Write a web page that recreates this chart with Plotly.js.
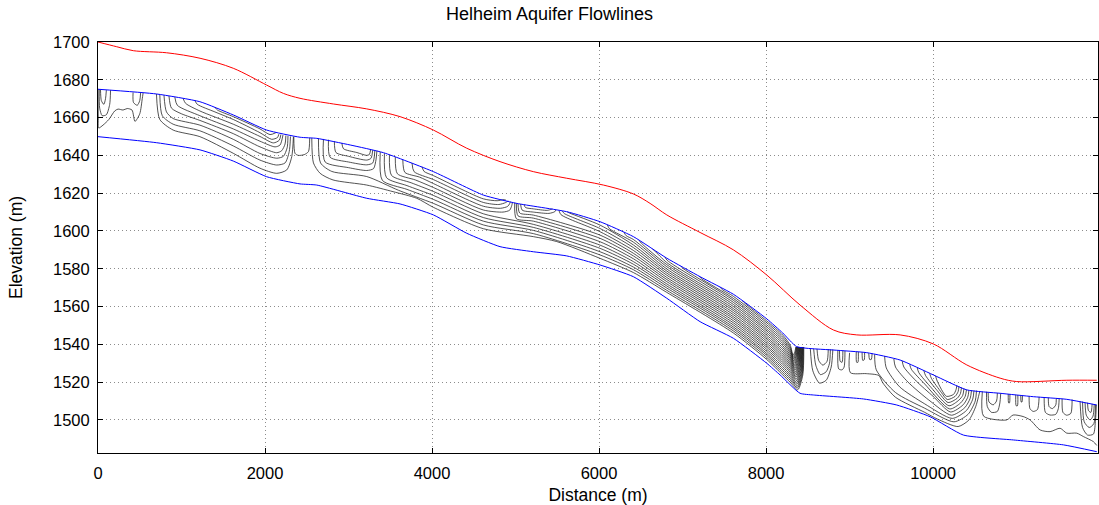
<!DOCTYPE html>
<html>
<head>
<meta charset="utf-8">
<script src="https://cdn.plot.ly/plotly-3.0.1.min.js"></script>
<style>html,body{margin:0;padding:0;background:#fff;}#chart{width:1099px;height:505px;}</style>
</head>
<body>
<div id="chart"></div>
<script>
// ---------- axis ticks ----------
const xTickVals = [0, 2000, 4000, 6000, 8000, 10000];
const yTickVals = [1500, 1520, 1540, 1560, 1580, 1600, 1620, 1640, 1660, 1680, 1700];

// ---------- ground surface (red) ----------
const surfaceX = [0,224,423,822,1222,1620,2020,2220,2419,2818,3218,3617,4016,4415,4814,5213,5613,6052,6411,6611,6811,7210,7609,8008,8407,8806,9086,9605,10004,10404,10803,11002,11601,11960];
const surfaceY = [1700,1697.5,1695.4,1694.3,1691.4,1686.1,1677.2,1672.8,1670.2,1667.2,1664.6,1660.5,1653.4,1643.8,1636.7,1631.4,1627.9,1624.3,1619.6,1614.6,1608.5,1599.2,1590,1576.7,1560.8,1547.6,1545,1545,1540.2,1529.1,1522.1,1520.3,1521,1521];

// ---------- aquifer top (blue) ----------
const aquiferTopX = [0,700,1220,1620,2020,2420,2620,3020,3420,4016,4614,5014,5613,6012,6411,6811,7210,7609,8008,8200,8367,8806,9206,9605,10004,10404,10803,11202,11601,11960];
const aquiferTopY = [1675,1672.5,1668.4,1661.4,1653.4,1649.6,1649,1645.5,1641.4,1631.4,1619,1614.6,1610.2,1604.9,1597,1585.6,1575.8,1566.5,1553.5,1546,1538.8,1537,1535.6,1531.7,1523.8,1515.9,1514.1,1512.3,1510.9,1507.9];

// ---------- aquifer bottom (blue) ----------
const aquiferBottomX = [0,703,1222,1620,2020,2419,2619,3218,3617,4016,4415,4814,5213,5613,6012,6411,6811,7210,7609,8008,8168,8407,8567,9166,9565,9964,10363,10962,11561,11960];
const aquiferBottomY = [1649.9,1646.7,1642.9,1637,1628.7,1624.9,1624.3,1617.3,1614.3,1608.5,1598.8,1591.7,1589,1586.8,1582,1575.8,1564.4,1552,1543.2,1530,1523.8,1514.1,1513.2,1511.1,1507.9,1501.7,1492,1489.4,1486.8,1483.2];

// ---------- flowlines (black), [distance, elevation] ----------
const A1 = [[0,1675],[3,1660],[8,1654.5],[60,1656],[130,1659],[200,1663.5],[240,1664.5],[300,1664],[350,1664.8],[407,1664],[443,1658],[500,1662],[530,1670],[540,1673]];
const A2 = [[15,1675],[20,1665],[50,1661],[100,1661.5],[140,1667],[150,1674.5]];
const A3 = [[30,1674.8],[40,1669],[70,1667],[90,1670],[100,1674.5]];
const A4 = [[420,1673.3],[425,1668],[470,1666.5],[500,1669],[510,1673]];

const B1 = [[700,1672.5],[740,1659],[900,1653.4],[1220,1649.9],[1620,1641.1],[1940,1633.2],[2140,1630.5],[2260,1632.3],[2320,1639.3],[2340,1649.9]];
const B2 = [[740,1672.2],[770,1661],[900,1656.5],[1220,1653],[1620,1645],[1940,1637.5],[2140,1634.9],[2240,1636],[2290,1642],[2305,1650]];
const B3 = [[790,1671.8],[820,1663],[900,1659.5],[1220,1656],[1620,1648.5],[1940,1641],[2140,1638.5],[2220,1639.5],[2265,1644],[2275,1650.3]];
const B4 = [[850,1671.4],[880,1665],[1000,1662],[1220,1658.5],[1620,1651.5],[1940,1644.5],[2140,1641.4],[2200,1642.5],[2240,1646],[2250,1650.5]];
const B5 = [[920,1670.8],[950,1666.5],[1220,1661],[1620,1654],[1940,1647.5],[2120,1644.5],[2180,1645.5],[2215,1650.8]];
const B6 = [[1020,1670],[1050,1667.5],[1220,1663.5],[1620,1656.5],[1940,1650],[2100,1646.6],[2170,1648],[2190,1651]];
const B7 = [[1160,1669],[1190,1667],[1400,1663],[1620,1659],[1940,1652],[2080,1648.5],[2150,1649.5],[2165,1651.2]];
const B8 = [[1400,1665.5],[1430,1664],[1620,1660.5],[1940,1654],[2060,1651],[2130,1652]];

const C1 = [[2345,1649.9],[2360,1641],[2400,1640],[2470,1640.4],[2520,1642],[2535,1649.2]];

const D1 = [[2700,1648.7],[2720,1636.5],[3000,1633.5],[3218,1632],[3300,1633],[3330,1638],[3340,1642.5]];
const D2 = [[2760,1648.3],[2780,1639],[3000,1636.5],[3218,1635],[3290,1636],[3315,1642.5]];
const D3 = [[2830,1647.5],[2850,1641.5],[3000,1639.5],[3218,1637.5],[3270,1638.5],[3290,1642.8]];
const D4 = [[2920,1646.5],[2940,1643.5],[3100,1641.5],[3218,1640],[3250,1640.5],[3265,1643.1]];

const L0 = [[2560,1649.1],[2580,1636],[2660,1630.5],[2814,1627],[3218,1624.3],[3533,1620.8],[3817,1617.3],[4016,1612.5],[4614,1601.2],[5213,1597.0],[5493,1594.4],[6012,1585.5],[6411,1578.0],[6811,1567.5],[7609,1546.0],[8008,1532.0],[8200,1523.8],[8290,1519.9],[8380,1516.0],[8440,1523.8],[8452,1538.6]];
const L1 = [[2640,1648.9],[2665,1636],[2800,1631.5],[3218,1628.8],[3600,1621.5],[4016,1614.6],[4614,1603.2],[5213,1598.6],[6012,1587.3],[6411,1579.5],[6811,1568.6],[7609,1547.1],[8008,1533.1],[8200,1524.9],[8290,1521.0],[8377,1517.0],[8435,1524.5],[8447,1538.6]];
const L2 = [[3380,1641.8],[3405,1626.8],[3700,1622],[4016,1616.7],[4614,1605.2],[5213,1600.3],[6012,1589.0],[6411,1580.9],[6811,1569.8],[7609,1548.2],[8008,1534.2],[8200,1526.0],[8290,1522.0],[8374,1517.9],[8430,1525.1],[8442,1538.6]];
const L3 = [[3430,1641.1],[3455,1628.2],[3700,1624],[4016,1618.8],[4614,1607.1],[5213,1601.9],[6012,1590.8],[6411,1582.4],[6811,1570.9],[7609,1549.2],[8008,1535.2],[8200,1527.1],[8290,1523.0],[8371,1518.9],[8425,1525.8],[8437,1538.6]];
const L4 = [[3490,1640.3],[3515,1629.4],[3750,1625.5],[4016,1620.9],[4614,1609.1],[5213,1603.5],[6012,1592.5],[6411,1583.8],[6811,1572.0],[7609,1550.3],[8008,1536.3],[8200,1528.2],[8290,1524.0],[8368,1519.8],[8420,1526.4],[8432,1538.6]];
const L5 = [[4990,1614.9],[5010,1606.5],[5213,1605.2],[6012,1594.3],[6411,1585.3],[6811,1573.2],[7609,1551.4],[8008,1537.4],[8200,1529.4],[8290,1525.1],[8365,1520.8],[8415,1527.1],[8427,1538.6]];
const L6 = [[5010,1614.7],[5030,1608],[5213,1606.8],[6012,1596.1],[6411,1586.8],[6811,1574.3],[7609,1552.5],[8008,1538.5],[8200,1530.5],[8290,1526.1],[8362,1521.7],[8410,1527.7],[8422,1538.6]];
const L7 = [[5030,1614.4],[5050,1609.5],[5213,1608.4],[6012,1597.8],[6411,1588.2],[6811,1575.4],[7609,1553.6],[8008,1539.5],[8200,1531.6],[8290,1527.2],[8359,1522.7],[8405,1528.4],[8417,1538.6]];
const L8 = [[5520,1610.8],[5545,1608.6],[6012,1599.6],[6411,1589.7],[6811,1576.6],[7609,1554.6],[8008,1540.6],[8200,1532.7],[8290,1528.2],[8356,1523.6],[8400,1529.0],[8412,1538.6]];
const L9 = [[5560,1610.5],[5585,1609.2],[6012,1601.3],[6411,1591.2],[6811,1577.7],[7609,1555.7],[8008,1541.7],[8200,1533.8],[8290,1529.2],[8353,1524.6],[8395,1529.7],[8407,1538.6]];
const L10 = [[5620,1610.1],[5645,1609.5],[6012,1603.1],[6411,1592.6],[6811,1578.8],[7609,1556.8],[8008,1542.8],[8200,1534.9],[8290,1530.2],[8350,1525.5],[8390,1530.3],[8402,1538.6]];
const L11 = [[6100,1603.2],[6125,1601.2],[6411,1594.1],[6811,1579.9],[7609,1557.9],[8008,1543.8],[8200,1536.0],[8290,1531.3],[8347,1526.5],[8385,1530.9],[8397,1538.6]];
const L12 = [[6300,1599.2],[6325,1597.5],[6411,1595.5],[6811,1581.1],[7609,1558.9],[8008,1544.9],[8200,1537.1],[8290,1532.3],[8344,1527.4],[8380,1531.6],[8392,1538.6]];
const L13 = [[6480,1595.0],[6505,1593.6],[6811,1582.2],[7609,1560.0],[8008,1546.0],[8200,1538.2],[8290,1533.3],[8341,1528.4],[8375,1532.2],[8387,1538.6]];
const L14 = [[6640,1590.4],[6665,1589.5],[6811,1583.3],[7609,1561.1],[8008,1547.1],[8200,1539.3],[8290,1534.3],[8338,1529.3],[8370,1532.8],[8382,1538.6]];
const L15 = [[6790,1586.2],[6815,1584.5],[7609,1562.2],[8008,1548.1],[8200,1540.5],[8290,1535.4],[8335,1530.3],[8365,1533.5],[8377,1538.6]];
const L16 = [[6980,1581.5],[7005,1580.2],[7609,1563.3],[8008,1549.2],[8200,1541.6],[8290,1536.4],[8332,1531.2],[8360,1534.1],[8372,1538.6]];
const L17 = [[7200,1576.0],[7225,1574.8],[7609,1564.3],[8008,1550.3],[8200,1542.7],[8290,1537.5],[8329,1532.2],[8355,1534.8],[8367,1538.6]];
const L18 = [[7450,1570.2],[7475,1569.0],[7609,1565.4],[8008,1551.4],[8200,1543.8],[8290,1538.5],[8326,1533.1],[8350,1535.4],[8362,1538.6]];
const L19 = [[7720,1562.9],[7745,1561.8],[8008,1552.4],[8200,1544.9],[8290,1539.5],[8323,1534.1],[8345,1536.1],[8357,1538.6]];

const E1 = [[3560,1639.1],[3585,1630.3],[3800,1627],[4016,1623.0],[4614,1611.1],[4850,1610],[4930,1611],[4955,1613.5],[4962,1615]];
const E2 = [[3650,1637.7],[3675,1631.0],[3850,1628.5],[4016,1625.1],[4614,1613.1],[4820,1612],[4905,1613],[4930,1614.5],[4937,1615.5]];
const E3 = [[3760,1636.0],[3785,1631.4],[4016,1627.2],[4614,1615.1],[4800,1614],[4880,1615],[4912,1615.9]];
const E4 = [[3880,1634.0],[3905,1631.5],[4016,1629.3],[4614,1617.0],[4780,1616],[4860,1616.6],[4885,1616.3]];
const Q1 = [[5060,1614.2],[5080,1611],[5213,1610.0],[5400,1609.3],[5470,1610.2],[5485,1611.2]];
const Q2 = [[5100,1614.0],[5120,1612.4],[5213,1611.7],[5380,1610.9],[5430,1611.5],[5440,1611.8]];

const G1 = [[8530,1537.8],[8560,1526],[8640,1519.5],[8720,1521],[8780,1528],[8800,1537.3]];
const G2 = [[8570,1537.7],[8595,1529],[8650,1524],[8720,1525.5],[8760,1530],[8770,1537.4]];
const G3 = [[8610,1537.6],[8630,1531.5],[8680,1529],[8730,1531],[8745,1537.5]];

const H0 = [[8860,1536.8],[8870,1527],[8910,1526.5],[8935,1528],[8945,1536.5]];
const H1 = [[8880,1536.7],[8888,1531],[8910,1530.5],[8920,1536.6]];
const H2 = [[9080,1536.0],[9085,1530.5],[9100,1530.5],[9105,1536.0]];
const H3 = [[9150,1535.8],[9158,1531.5],[9175,1531.8],[9180,1535.8]];
const H4 = [[9230,1535.3],[9240,1532],[9260,1532],[9270,1535.1]];

const I1 = [[9000,1535.5],[9010,1525],[9200,1524.5],[9350,1523.5],[9400,1519.5],[9550,1512],[9900,1504],[10050,1500.5],[10300,1496.5],[10430,1500],[10510,1507],[10560,1515.3]];
const I2 = [[9300,1534.7],[9320,1526.5],[9550,1514.5],[9900,1506.2],[10250,1499],[10420,1503],[10505,1510],[10520,1515.5]];
const I3 = [[9420,1533.8],[9440,1527.5],[9600,1517.5],[9900,1508.5],[10230,1500.8],[10400,1505],[10475,1511],[10490,1515.6]];
const I4 = [[9530,1532.4],[9550,1528],[9700,1520],[9950,1510.5],[10220,1502.5],[10380,1506.5],[10445,1511.5],[10460,1515.7]];
const I5 = [[9630,1531.2],[9650,1528],[9800,1520.5],[10000,1512.5],[10210,1504.2],[10360,1508],[10415,1512],[10430,1515.8]];
const I6 = [[9720,1529.4],[9740,1526.8],[9900,1519],[10200,1505.8],[10330,1509],[10385,1512.5],[10400,1516]];
const I7 = [[9810,1527.6],[9830,1525],[9980,1517],[10190,1507.5],[10310,1510.5],[10355,1513],[10370,1516.6]];
const I8 = [[9890,1526],[9910,1523.5],[10050,1515.5],[10180,1509.2],[10290,1511.5],[10328,1514],[10340,1517.2]];
const I9 = [[9960,1524.6],[9980,1522],[10100,1514.5],[10170,1510.8],[10265,1512.5],[10300,1515],[10310,1517.8]];
const I10 = [[10030,1523.3],[10050,1520.5],[10160,1512.5],[10245,1513.5],[10275,1516],[10285,1518.3]];

const J0 = [[10590,1515],[10605,1502],[10882,1500],[10958,1502.6],[11078,1501.8],[11162,1500],[11282,1494.7],[11401,1493.8],[11521,1495.6],[11601,1493],[11721,1493],[11800,1491.2],[11920,1488.5],[11960,1486.5]];
const J1 = [[10640,1514.9],[10650,1507],[10700,1504],[10770,1504.5],[10800,1509],[10810,1514.1]];
const J2 = [[10660,1514.8],[10670,1509.5],[10720,1508],[10760,1510],[10770,1514.3]];
const J3 = [[10900,1513.7],[10905,1509],[10915,1509],[10920,1513.6]];
const J4 = [[10990,1513.3],[10995,1507.5],[11010,1507.5],[11015,1513.2]];
const J5 = [[11050,1513.0],[11055,1509.5],[11065,1509.5],[11070,1512.9]];
const J6 = [[11150,1512.6],[11160,1506],[11200,1504.5],[11250,1505.5],[11270,1512.2]];
const J7 = [[11330,1511.9],[11345,1504],[11400,1502.6],[11470,1503],[11500,1506],[11510,1511.3]];
const J8 = [[11380,1511.8],[11390,1507],[11430,1506],[11470,1508],[11475,1511.5]];
const J9 = [[11545,1511.2],[11555,1504],[11600,1502.5],[11650,1503.5],[11665,1510.8]];
const J10 = [[11760,1509.9],[11790,1496],[11850,1492],[11920,1492.5],[11945,1500],[11955,1508]];
const J11 = [[11790,1509.7],[11810,1499],[11870,1496],[11925,1498],[11945,1508.1]];
const J12 = [[11820,1509.4],[11835,1502.5],[11880,1500],[11915,1502],[11930,1508.3]];
const J13 = [[11850,1509.1],[11860,1505],[11890,1504],[11905,1508.5]];

const flowlines = [A1,A2,A3,A4,B1,B2,B3,B4,B5,B6,B7,B8,C1,D1,D2,D3,D4,
  L0,L1,L2,L3,L4,L5,L6,L7,L8,L9,L10,L11,L12,L13,L14,L15,L16,L17,L18,L19,
  E1,E2,E3,E4,Q1,Q2,G1,G2,G3,H0,H1,H2,H3,H4,
  I1,I2,I3,I4,I5,I6,I7,I8,I9,I10,
  J0,J1,J2,J3,J4,J5,J6,J7,J8,J9,J10,J11,J12,J13];

// ---------- traces ----------
const traces = flowlines.map(pts => ({
  type: 'scatter', mode: 'lines',
  x: pts.map(p => p[0]), y: pts.map(p => p[1]),
  line: {color: '#1a1a1a', width: 0.75, shape: 'spline', smoothing: 0.7},
  hoverinfo: 'skip', showlegend: false
}));
traces.push({type:'scatter', mode:'lines', x: aquiferTopX, y: aquiferTopY,
  line:{color:'#0000ff', width:1, shape:'spline', smoothing:0.5}, hoverinfo:'skip', showlegend:false});
traces.push({type:'scatter', mode:'lines', x: aquiferBottomX, y: aquiferBottomY,
  line:{color:'#0000ff', width:1, shape:'spline', smoothing:0.5}, hoverinfo:'skip', showlegend:false});
traces.push({type:'scatter', mode:'lines', x: surfaceX, y: surfaceY,
  line:{color:'#ff0000', width:1, shape:'spline', smoothing:0.9}, hoverinfo:'skip', showlegend:false});

const fontFam = '"Liberation Sans", Arial, Helvetica, sans-serif';
const axisCommon = {
  showgrid: true, gridcolor: '#8c8c8c', griddash: '1px,3px', gridwidth: 1,
  zeroline: false, showline: true, linecolor: '#000', linewidth: 1, mirror: 'ticks',
  ticks: 'inside', ticklen: 5, tickcolor: '#000', tickwidth: 1,
  automargin: false, tickfont: {family: fontFam, size: 16.5, color: '#000'}
};
const layout = {
  width: 1099, height: 505,
  margin: {l: 98, r: 1, t: 42, b: 52, pad: 0},
  paper_bgcolor: '#ffffff', plot_bgcolor: '#ffffff',
  font: {family: fontFam, size: 16, color: '#000'},
  showlegend: false,
  title: {text: 'Helheim Aquifer Flowlines', x: 0.5, xref: 'container', xanchor: 'center',
          y: 0.972, yref: 'container', yanchor: 'middle', font: {family: fontFam, size: 18, color: '#000'}},
  xaxis: Object.assign({}, axisCommon, {
    range: [0, 11975], tickmode: 'array', tickvals: xTickVals, ticktext: xTickVals.map(String),
    ticklabelstandoff: 5,
    title: {text: 'Distance (m)', standoff: 8, font: {family: fontFam, size: 17.5, color: '#000'}}
  }),
  yaxis: Object.assign({}, axisCommon, {
    range: [1482.5, 1700], tickmode: 'array', tickvals: yTickVals, ticktext: yTickVals.map(String),
    ticklabelstandoff: 4,
    title: {text: 'Elevation (m)', standoff: 25, font: {family: fontFam, size: 17.5, color: '#000'}}
  })
};
Plotly.newPlot('chart', traces, layout, {displayModeBar: false, staticPlot: true});
</script>
</body>
</html>
